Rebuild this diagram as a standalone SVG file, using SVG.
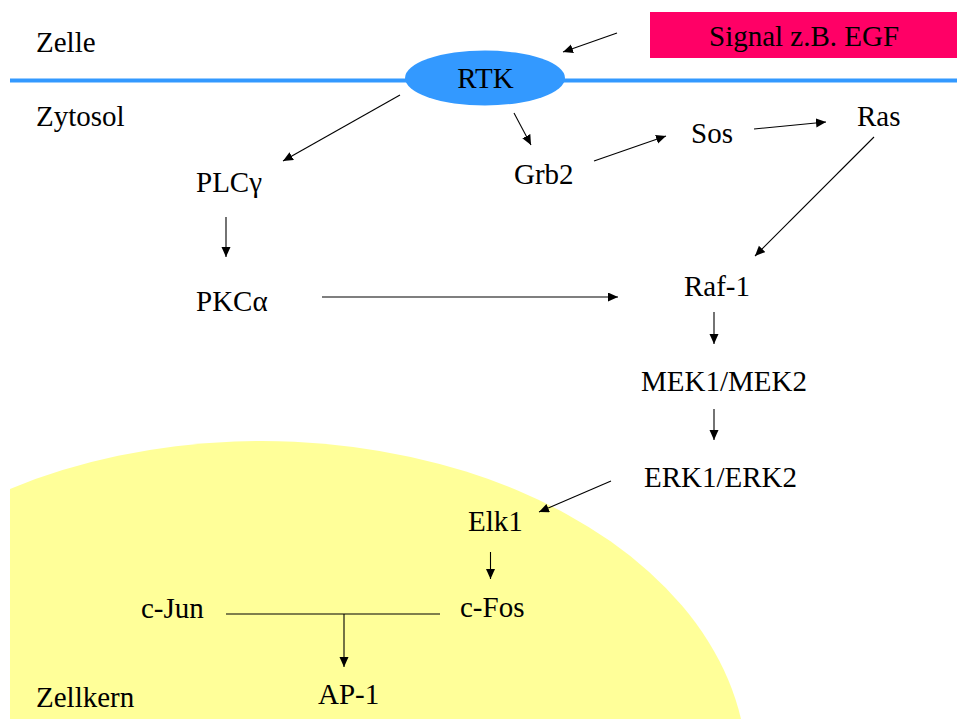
<svg xmlns="http://www.w3.org/2000/svg" width="957" height="719" viewBox="0 0 957 719">
<style>
.c{stroke:#000;stroke-width:1.1;fill:none}
.a{marker-end:url(#ah)}
</style>
<defs>
<marker id="ah" markerUnits="userSpaceOnUse" markerWidth="11" markerHeight="10" refX="10" refY="4.5" orient="auto">
<path d="M0,0 L10,4.5 L0,9 z" fill="#000"/>
</marker>
</defs>
<rect width="957" height="719" fill="#fff"/>
<g font-family="Liberation Serif, serif" font-size="29" fill="#000">
<g id="zellkern">
<path d="M10,719 L10,488.9 A485,329 0 0 1 741,719 Z" fill="#ffff99"/>
<text x="36" y="707">Zellkern</text>
</g>
<g id="membran">
<line x1="10" y1="80.5" x2="957" y2="80.5" stroke="#3399ff" stroke-width="4"/>
</g>
<g id="labels">
<text x="36" y="52">Zelle</text>
<text x="36" y="126">Zytosol</text>
</g>
<g id="signal">
<rect x="650" y="12" width="307" height="46" fill="#ff0066"/>
<text x="709" y="46">Signal z.B. EGF</text>
</g>
<g id="rtk">
<ellipse cx="485" cy="78" rx="80" ry="27.5" fill="#3399ff"/>
<text x="485.5" y="88" text-anchor="middle">RTK</text>
</g>
<g id="plcg"><text x="196" y="192">PLCγ</text></g>
<g id="pkca"><text x="196" y="311">PKCα</text></g>
<g id="grb2"><text x="514" y="184">Grb2</text></g>
<g id="sos"><text x="691" y="143">Sos</text></g>
<g id="ras"><text x="857" y="126">Ras</text></g>
<g id="raf1"><text x="684" y="296">Raf-1</text></g>
<g id="mek"><text x="641" y="391">MEK1/MEK2</text></g>
<g id="erk"><text x="644" y="487">ERK1/ERK2</text></g>
<g id="elk1"><text x="468" y="531">Elk1</text></g>
<g id="cfos"><text x="460" y="617">c-Fos</text></g>
<g id="cjun"><text x="141" y="618">c-Jun</text></g>
<g id="ap1"><text x="318" y="704">AP-1</text></g>
</g>
<g id="connectors">
<line class="c a" x1="617" y1="33" x2="563" y2="52"/>
<line class="c a" x1="400" y1="95" x2="283" y2="161"/>
<line class="c a" x1="514" y1="113" x2="531" y2="145"/>
<line class="c a" x1="594" y1="161" x2="666" y2="136"/>
<line class="c a" x1="754" y1="129" x2="826" y2="122"/>
<line class="c a" x1="874" y1="137" x2="755" y2="256"/>
<line class="c a" x1="226" y1="217" x2="226" y2="257"/>
<line class="c a" x1="322" y1="297" x2="618" y2="297"/>
<line class="c a" x1="714" y1="312" x2="714" y2="344"/>
<line class="c a" x1="714" y1="409" x2="714" y2="440"/>
<line class="c a" x1="611" y1="481" x2="539" y2="512"/>
<line class="c a" x1="490.5" y1="552" x2="490.5" y2="579"/>
<line class="c" x1="226" y1="614" x2="440" y2="614"/>
<line class="c a" x1="344" y1="614" x2="344" y2="667"/>
</g>
</svg>
